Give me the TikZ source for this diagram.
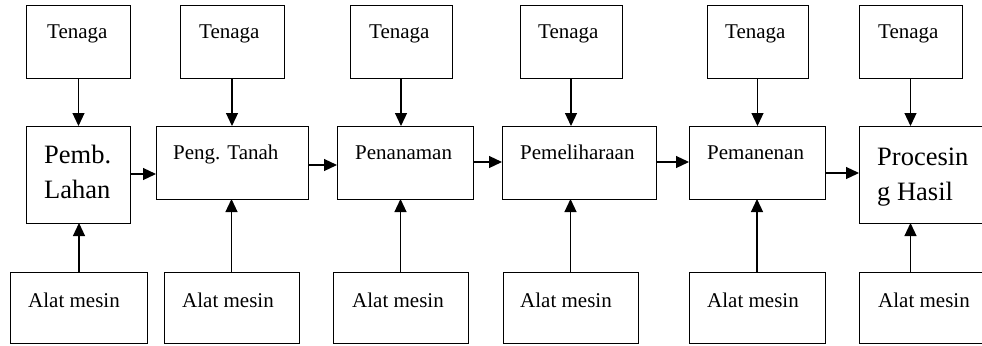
\documentclass[tikz,border=0pt]{standalone}
\usepackage{fontspec}
\setmainfont{Liberation Serif}
\usetikzlibrary{arrows.meta}
\begin{document}
\begin{tikzpicture}[x=1bp,y=-1bp,
  box/.style={draw, line width=1bp, inner sep=0pt, outer sep=0pt},
  lbl/.style={anchor=base west, inner sep=0pt, font=\fontsize{21bp}{25bp}\selectfont},
  big/.style={anchor=base west, inner sep=0pt, align=left, font=\fontsize{26.5bp}{35bp}\selectfont},
  arr/.style={-{Triangle[length=13bp,width=12bp]}, line width=1.2bp}]
\useasboundingbox (0,0) rectangle (982,345);
\clip (0,0) rectangle (982,345);
% Tenaga boxes
\node[box, minimum width=103bp, minimum height=73bp] (t1) at (78.5,41.5) {};
\node[box, minimum width=104bp, minimum height=73bp] (t2) at (232,41.5) {};
\node[box, minimum width=102bp, minimum height=73bp] (t3) at (401,41.5) {};
\node[box, minimum width=102bp, minimum height=73bp] (t4) at (571,41.5) {};
\node[box, minimum width=101bp, minimum height=73bp] (t5) at (757.5,41.5) {};
\node[box, minimum width=103bp, minimum height=73bp] (t6) at (910.5,41.5) {};
% process boxes
\node[box, minimum width=103bp, minimum height=97bp] (p1) at (78.5,174.5) {};
\node[box, minimum width=152bp, minimum height=73bp] (p2) at (232,162.5) {};
\node[box, minimum width=136bp, minimum height=73bp] (p3) at (405,162.5) {};
\node[box, minimum width=154bp, minimum height=73bp] (p4) at (579,162.5) {};
\node[box, minimum width=136bp, minimum height=73bp] (p5) at (757,162.5) {};
\node[box, minimum width=151bp, minimum height=97bp] (p6) at (934.5,174.5) {};
% Alat mesin boxes
\node[box, minimum width=136bp, minimum height=71bp] (a1) at (79,307.5) {};
\node[box, minimum width=135bp, minimum height=71bp] (a2) at (231.5,307.5) {};
\node[box, minimum width=135bp, minimum height=71bp] (a3) at (400.5,307.5) {};
\node[box, minimum width=135bp, minimum height=71bp] (a4) at (570.5,307.5) {};
\node[box, minimum width=136bp, minimum height=71bp] (a5) at (757,307.5) {};
\node[box, minimum width=151bp, minimum height=71bp] (a6) at (934.5,307.5) {};
% texts
\node[lbl] (tt1) at (47,38) {Tenaga};
\node[lbl] (tt2) at (199,38) {Tenaga};
\node[lbl] (tt3) at (369,38) {Tenaga};
\node[lbl] (tt4) at (538,38) {Tenaga};
\node[lbl] (tt5) at (725,38) {Tenaga};
\node[lbl] (tt6) at (878,38) {Tenaga};
\node[big] (pt1) at (44,198) {Pemb.\\Lahan};
\node[lbl] (pt2) at (173,159) {Peng. Tanah};
\node[lbl] (pt3) at (355,159) {Penanaman};
\node[lbl] (pt4) at (520,159) {Pemeliharaan};
\node[lbl] (pt5) at (707,159) {Pemanenan};
\node[big] (pt6) at (877,200) {Procesin\\g Hasil};
\node[lbl] (at1) at (28,307) {Alat mesin};
\node[lbl] (at2) at (182,307) {Alat mesin};
\node[lbl] (at3) at (352,307) {Alat mesin};
\node[lbl] (at4) at (520,307) {Alat mesin};
\node[lbl] (at5) at (707,307) {Alat mesin};
\node[lbl] (at6) at (878,307) {Alat mesin};
% vertical arrows from Tenaga
\foreach \i in {1,...,6} {
  \draw[arr] (t\i.south) -- (t\i.south |- p\i.north);
}
% vertical arrows from Alat mesin
\foreach \i in {1,...,5} {
  \draw[arr] (a\i.north) -- (a\i.north |- p\i.south);
}
\draw[arr] (t6.south |- a6.north) -- (t6.south |- p6.south);
% horizontal arrows
\draw[arr] (p1.east |- 0,174) -- (p2.west |- 0,174);
\draw[arr] (p2.east |- 0,165) -- (p3.west |- 0,165);
\draw[arr] (p3.east |- 0,162) -- (p4.west |- 0,162);
\draw[arr] (p4.east |- 0,162) -- (p5.west |- 0,162);
\draw[arr] (p5.east |- 0,173) -- (p6.west |- 0,173);
\end{tikzpicture}
\end{document}
